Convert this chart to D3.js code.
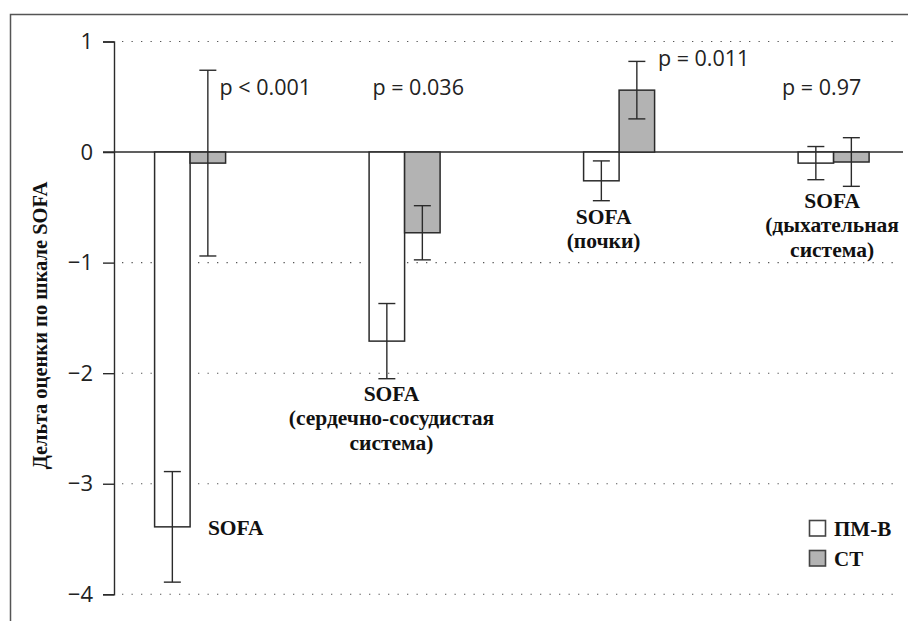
<!DOCTYPE html>
<html>
<head>
<meta charset="utf-8">
<script src="https://cdn.jsdelivr.net/npm/d3@7"></script>
<style>
  html, body { margin: 0; padding: 0; background: #fff; }
  svg { display: block; }
</style>
</head>
<body>
<svg id="chart" width="908" height="621"></svg>
<script>
// ---- data ----
const categories = ["SOFA", "SOFA (сердечно-сосудистая система)", "SOFA (почки)", "SOFA (дыхательная система)"];
const categoryLines = [
  ["SOFA"],
  ["SOFA", "(сердечно-сосудистая", "система)"],
  ["SOFA", "(почки)"],
  ["SOFA", "(дыхательная", "система)"]
];
const seriesNames = ["ПМ-В", "СТ"];
const pmvValues = [-3.39, -1.71, -0.26, -0.10];
const pmvErrors = [0.50, 0.34, 0.18, 0.15];
const ctValues = [-0.10, -0.73, 0.56, -0.09];
const ctErrors = [0.84, 0.245, 0.26, 0.22];
const pValues = ["p < 0.001", "p = 0.036", "p = 0.011", "p = 0.97"];
const yTicks = [1, 0, -1, -2, -3, -4];
const gridTicks = [1, -1, -2, -3, -4];
const yTitle = "Дельта оценки по шкале SOFA";

// ---- layout ----
const axisX = 114;
const svg = d3.select("#chart");
const serif = "'Liberation Serif', 'Times New Roman', serif";
const sans = "'Open Sans', sans-serif";

const y = d3.scaleLinear().domain([1, -4]).range([41.5, 594.3]);
const xCenter = d3.scalePoint().domain(categories).range([190.6, 834.1]);
const xSub = d3.scaleBand().domain(seriesNames).range([-36, 35]);

const fills = { "ПМ-В": "#ffffff", "СТ": "#b3b3b3" };
const ink = "#2b2b2b";

// frame (extends beyond the visible area)
svg.append("rect")
  .attr("x", 10.5).attr("y", 14.5)
  .attr("width", 1000).attr("height", 1000)
  .attr("fill", "none").attr("stroke", "#555").attr("stroke-width", 1.5);

// dotted gridlines
svg.append("g").selectAll("line").data(gridTicks).join("line")
  .attr("x1", 122).attr("x2", 898)
  .attr("y1", d => y(d)).attr("y2", d => y(d))
  .attr("stroke", "#555").attr("stroke-width", 1.1)
  .attr("stroke-dasharray", "1.3 8.2");

// zero line
svg.append("line")
  .attr("x1", 103).attr("x2", 903)
  .attr("y1", y(0)).attr("y2", y(0))
  .attr("stroke", ink).attr("stroke-width", 1.4);

// y axis
const yAxis = d3.axisLeft(y).tickValues(yTicks).tickSize(11).tickSizeOuter(11).tickPadding(10)
  .tickFormat(d => d < 0 ? "\u2212" + Math.abs(d) : String(d));
const gA = svg.append("g").attr("transform", `translate(${axisX},0)`).call(yAxis);
gA.selectAll("path, line").attr("stroke", ink).attr("stroke-width", 1.4);
gA.selectAll("text")
  .attr("font-family", sans)
  .attr("font-size", 22)
  .attr("fill", "#222");

// y title
svg.append("text")
  .attr("transform", "translate(46.5,325.5) rotate(-90)")
  .attr("text-anchor", "middle")
  .attr("font-family", serif)
  .attr("font-weight", "bold")
  .attr("font-size", 20.5)
  .attr("fill", "#111")
  .text(yTitle);

// bars + error bars
const rows = [];
categories.forEach((c, i) => {
  rows.push({ cat: c, series: "ПМ-В", value: pmvValues[i], err: pmvErrors[i] });
  rows.push({ cat: c, series: "СТ", value: ctValues[i], err: ctErrors[i] });
});

svg.append("g").selectAll("rect").data(rows).join("rect")
  .attr("x", d => xCenter(d.cat) + xSub(d.series))
  .attr("width", xSub.bandwidth())
  .attr("y", d => Math.min(y(0), y(d.value)))
  .attr("height", d => Math.abs(y(d.value) - y(0)))
  .attr("fill", d => fills[d.series])
  .attr("stroke", ink).attr("stroke-width", 1.5);

const capW = 8.5;
const gErr = svg.append("g").attr("stroke", ink).attr("stroke-width", 1.4);
rows.forEach(d => {
  const cx = xCenter(d.cat) + xSub(d.series) + xSub.bandwidth() / 2;
  const y1 = y(d.value + d.err), y2 = y(d.value - d.err);
  gErr.append("line").attr("x1", cx).attr("x2", cx).attr("y1", y1).attr("y2", y2);
  gErr.append("line").attr("x1", cx - capW).attr("x2", cx + capW).attr("y1", y1).attr("y2", y1);
  gErr.append("line").attr("x1", cx - capW).attr("x2", cx + capW).attr("y1", y2).attr("y2", y2);
});

// p-value annotations (offset from group centre, baseline y)
const pLayout = [
  { dx: 29, y: 95 },
  { dx: -32.6, y: 95 },
  { dx: 38.3, y: 66 },
  { dx: -52, y: 95 }
];
svg.append("g").selectAll("text").data(pValues).join("text")
  .attr("x", (d, i) => xCenter(categories[i]) + pLayout[i].dx)
  .attr("y", (d, i) => pLayout[i].y)
  .attr("font-family", sans)
  .attr("font-size", 21.5)
  .attr("fill", "#222")
  .text(d => d);

// category labels
const labelLayout = [
  { dx: 17.3, y: 535, anchor: "start" },
  { dx: -13.6, y: 401, anchor: "middle" },
  { dx: -16, y: 224, anchor: "middle" },
  { dx: -2, y: 208, anchor: "middle" }
];
categoryLines.forEach((lines, i) => {
  const t = svg.append("text")
    .attr("text-anchor", labelLayout[i].anchor)
    .attr("font-family", serif)
    .attr("font-weight", "bold")
    .attr("font-size", 21.5)
    .attr("fill", "#111");
  lines.forEach((ln, j) => {
    t.append("tspan")
      .attr("x", xCenter(categories[i]) + labelLayout[i].dx)
      .attr("y", labelLayout[i].y + j * 24.3)
      .text(ln);
  });
});

// legend
const gL = svg.append("g").attr("transform", "translate(809.5,520.5)");
seriesNames.forEach((s, i) => {
  gL.append("rect")
    .attr("x", 0).attr("y", i * 30)
    .attr("width", 16).attr("height", 15.5)
    .attr("fill", fills[s]).attr("stroke", "#444").attr("stroke-width", 1.6);
  gL.append("text")
    .attr("x", 24.5).attr("y", i * 30 + 15)
    .attr("font-family", serif)
    .attr("font-weight", "bold")
    .attr("font-size", 21)
    .attr("fill", "#111")
    .text(s);
});
</script>
</body>
</html>
